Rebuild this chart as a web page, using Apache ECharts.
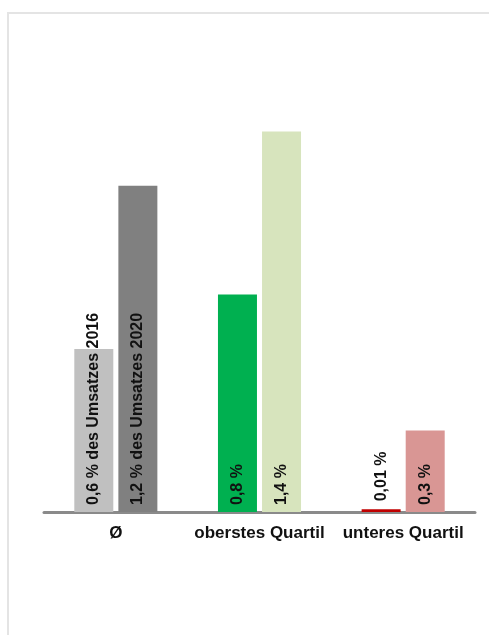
<!DOCTYPE html>
<html>
<head>
<meta charset="utf-8">
<script src="https://cdn.jsdelivr.net/npm/echarts@6/dist/echarts.min.js"></script>
<style>
  html, body { margin: 0; padding: 0; background: #ffffff; }
  #chart { width: 489px; height: 635px; }
</style>
</head>
<body>
<div id="chart"></div>
<script>
// Categories and values (share of revenue, %)
const categories = ['Ø', 'oberstes Quartil', 'unteres Quartil'];
const values2016 = [0.6, 0.8, 0.01];
const values2020 = [1.2, 1.4, 0.3];
const labels2016 = ['0,6 % des Umsatzes 2016', '0,8 %', '0,01 %'];
const labels2020 = ['1,2 % des Umsatzes 2020', '1,4 %', '0,3 %'];
const colors2016 = ['#c0c0c0', '#00b050', '#c00000'];
const colors2020 = ['#808080', '#d7e4bd', '#d99694'];

const baseLabel = {
  show: true,
  position: 'insideBottom',
  rotate: 90,
  align: 'left',
  verticalAlign: 'middle',
  distance: 7,
  color: '#111111',
  fontFamily: 'Liberation Sans, Arial, sans-serif',
  fontWeight: 'bold',
  fontSize: 16
};

function buildData(values, colors, texts) {
  return values.map((v, i) => {
    const item = {
      value: v,
      itemStyle: { color: colors[i] },
      label: { formatter: texts[i] }
    };
    // very small bars carry their label just above the bar
    if (v < 0.05) {
      item.label.position = 'top';
      item.label.distance = 8;
    }
    return item;
  });
}

const chart = echarts.init(document.getElementById('chart'));
chart.setOption({
  backgroundColor: '#ffffff',
  animation: false,
  graphic: [{
    type: 'rect',
    shape: { x: 8, y: 13, width: 700, height: 800 },
    style: { fill: 'none', stroke: '#e4e4e4', lineWidth: 2 },
    silent: true,
    z: -10
  }],
  grid: { left: 44, right: 14, top: 77, bottom: 123 },
  xAxis: {
    type: 'category',
    data: categories,
    axisLine: { show: true, lineStyle: { color: '#8a8a8a', width: 3 } },
    axisTick: { show: false },
    axisLabel: {
      interval: 0,
      color: '#111111',
      fontFamily: 'Liberation Sans, Arial, sans-serif',
      fontWeight: 'bold',
      fontSize: 17,
      margin: 13
    }
  },
  yAxis: {
    type: 'value',
    min: 0,
    max: 1.6,
    show: false,
    splitLine: { show: false }
  },
  series: [
    {
      name: '2016',
      type: 'bar',
      barWidth: 39,
      barGap: '13%',
      label: baseLabel,
      data: buildData(values2016, colors2016, labels2016)
    },
    {
      name: '2020',
      type: 'bar',
      barWidth: 39,
      label: baseLabel,
      data: buildData(values2020, colors2020, labels2020)
    }
  ]
});
</script>
</body>
</html>
